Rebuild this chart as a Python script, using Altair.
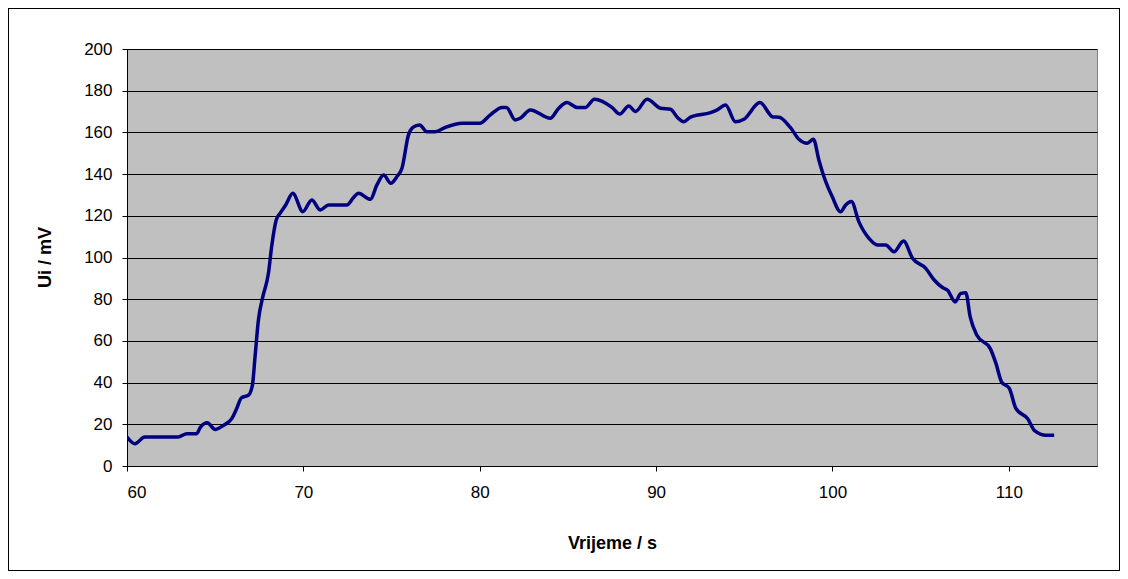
import altair as alt
import pandas as pd

# time (s)
time_s = [60.0, 60.45, 61.0, 62.9, 63.4, 63.95, 64.15, 64.55, 65.0, 65.47,
          65.94, 66.19, 66.5, 66.88, 67.11, 67.26, 67.45, 67.7, 68.02, 68.2,
          68.46, 68.68, 69.0, 69.4, 69.97, 70.48, 70.95, 71.43, 72.47, 72.85,
          73.13, 73.8, 74.17, 74.55, 74.96, 75.3, 75.59, 75.96, 76.21, 76.59,
          77.0, 77.48, 78.05, 79.0, 80.0, 80.6, 81.27, 81.51, 82.02, 82.3,
          82.87, 84.0, 84.48, 84.95, 85.52, 86.0, 86.5, 87.5, 87.94, 88.45,
          88.83, 89.49, 90.25, 90.82, 91.2, 91.57, 91.95, 93.09, 93.47, 93.94,
          94.5, 94.98, 95.89, 96.63, 96.97, 97.6, 98.1, 98.57, 98.92, 99.23,
          99.52, 99.99, 100.46, 100.75, 101.07, 101.5, 102.07, 102.55, 103.02, 103.49,
          104.03, 104.54, 105.29, 105.77, 106.24, 106.53, 106.96, 107.28, 107.56, 107.81,
          108.19, 108.95, 109.27, 109.59, 110.03, 110.4, 111.07, 111.48, 112.1, 112.57]

# induced voltage (mV)
ui_mv = [13.9, 10.7, 13.9, 13.9, 15.5, 15.5, 18.4, 20.7, 17.5, 19.5,
         22.7, 27.0, 32.8, 33.9, 38.7, 52.3, 69.9, 81.1, 92.4, 105.1,
         118.0, 121.2, 125.2, 130.8, 122.0, 127.6, 122.8, 125.2, 125.2, 128.8,
         130.8, 127.9, 134.8, 139.6, 135.6, 138.7, 142.8, 158.8, 162.4, 163.6,
         160.3, 160.3, 162.4, 164.4, 164.4, 168.4, 172.0, 172.0, 166.0, 166.8,
         170.8, 166.8, 171.6, 174.3, 172.0, 172.0, 175.9, 172.0, 168.8, 172.7,
         170.0, 175.9, 171.6, 171.1, 167.3, 165.1, 167.3, 169.5, 170.8, 173.2,
         165.1, 166.3, 174.3, 167.4, 167.3, 162.5, 156.7, 154.8, 156.7, 146.8,
         138.7, 129.1, 121.9, 125.2, 126.8, 117.1, 109.2, 106.0, 106.0, 102.7,
         107.9, 99.6, 94.8, 89.2, 85.6, 84.3, 78.7, 82.8, 83.1, 71.5,
         62.7, 56.3, 49.2, 40.3, 37.2, 27.6, 22.7, 16.8, 14.7, 14.7]

x_ticks = [60, 70, 80, 90, 100, 110]
y_ticks = [0, 20, 40, 60, 80, 100, 120, 140, 160, 180, 200]

df = pd.DataFrame({"t": time_s, "u": ui_mv})

FONT = "Liberation Sans"

line = alt.Chart(df).mark_line(
    color="#000080", strokeWidth=3.5, interpolate="monotone", clip=True
).encode(
    x=alt.X("t:Q",
            scale=alt.Scale(domain=[60, 115], nice=False, zero=False),
            axis=alt.Axis(values=x_ticks, title="Vrijeme / s", grid=False,
                          labelPadding=13, titleY=82, titleBaseline="alphabetic")),
    y=alt.Y("u:Q",
            scale=alt.Scale(domain=[0, 200], nice=False),
            axis=alt.Axis(values=y_ticks, title="Ui / mV", grid=True,
                          labelPadding=10, titleX=-82, titleY=208,
                          titleBaseline="middle")),
)

border = alt.Chart(df).mark_rect(
    fill=None, stroke="black", strokeWidth=1, clip=False
).encode(
    x=alt.value(-118.5), x2=alt.value(992.5),
    y=alt.value(-40.5), y2=alt.value(521.5),
)

chart = alt.layer(border, line).properties(
    width=970, height=417,
    autosize=alt.AutoSizeParams(type="none"),
    padding={"left": 119, "top": 41, "right": 23, "bottom": 105},
    background="white",
).configure_view(
    fill="#C0C0C0", stroke="#808080", strokeWidth=1
).configure_axis(
    labelFont=FONT, titleFont=FONT, labelFontSize=17, titleFontSize=18,
    labelColor="black", titleColor="black", titleFontWeight="bold",
    domainColor="black", tickColor="black", tickSize=5,
    gridColor="black", gridWidth=1, gridOpacity=1, domainWidth=1,
)

chart.save("out.html", embed_options={"renderer": "svg", "actions": False})
